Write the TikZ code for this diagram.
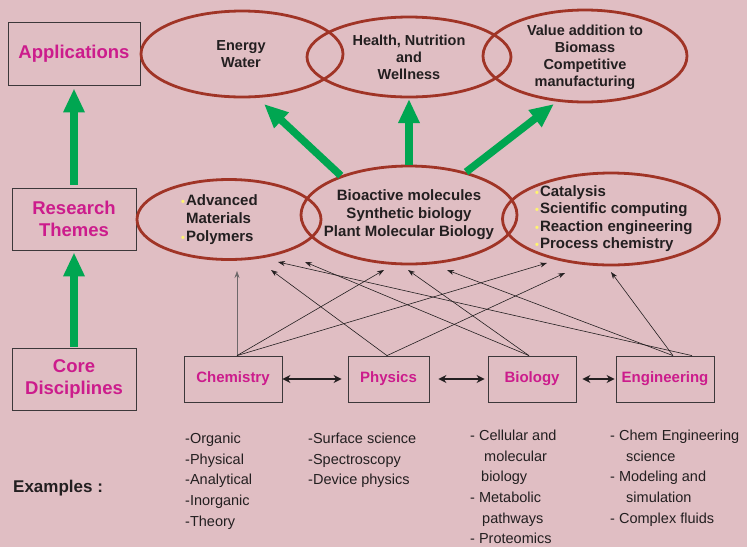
\documentclass[tikz,border=0pt]{standalone}
\usepackage{fontspec}
\setmainfont{Liberation Sans}
\usetikzlibrary{shapes.geometric,arrows.meta,positioning}

\definecolor{bgpink}{RGB}{224,190,195}
\definecolor{rimred}{RGB}{160,52,38}
\definecolor{pinktext}{RGB}{204,28,140}
\definecolor{leafgreen}{RGB}{0,166,81}
\definecolor{inkdark}{RGB}{35,31,32}
\definecolor{boxgray}{RGB}{60,56,58}
\definecolor{dotyellow}{RGB}{255,245,110}
\definecolor{linkgray}{RGB}{110,104,106}

\newcommand{\ydot}{\textcolor{dotyellow}{\fontsize{11}{11}\selectfont\textbullet}\hspace{1pt}}

\begin{document}
\begin{tikzpicture}[x=1pt, y=-1pt,
    rim/.style={ellipse, draw=rimred, line width=2.8pt, inner sep=0pt},
    tier/.style={draw=boxgray, line width=0.8pt, text=pinktext, align=center,
        font=\bfseries\fontsize{18.5}{22}\selectfont, minimum width=124pt, minimum height=62pt, inner sep=0pt},
    subject/.style={draw=boxgray, line width=0.8pt, text=pinktext,
        font=\bfseries\fontsize{15}{18}\selectfont, minimum height=46pt, inner sep=0pt},
    theme/.style={text=inkdark, font=\bfseries\fontsize{15}{18}\selectfont, inner sep=0pt},
    goal/.style={text=inkdark, align=center, font=\bfseries\fontsize{14.5}{17}\selectfont, inner sep=0pt},
    example/.style={anchor=north west, align=left, text=inkdark, font=\fontsize{14.5}{20.6}\selectfont, inner sep=0pt},
    greenup/.style={draw=leafgreen, line width=7.5pt, -{Triangle[length=24pt,width=20pt]}},
    feed/.style={draw=inkdark, line width=0.6pt, -{Stealth[length=7pt,width=5pt]}},
    pairlink/.style={draw=inkdark, line width=1.5pt, {Stealth[length=8pt,width=8pt]}-{Stealth[length=8pt,width=8pt]}}]

    \useasboundingbox (0,0) rectangle (747,547);
    \fill[bgpink] (0,0) rectangle (747,547);

    % left column
    \node[tier, minimum width=132pt, minimum height=63pt] (apps) at (74,53.5) {Applications};
    \node[tier] (themes) at (74,219) {Research\\Themes};
    \node[tier] (core) at (74,379) {Core\\Disciplines};
    \draw[greenup, shorten <=3pt, shorten >=3pt] (themes.north) -- (apps.south);
    \draw[greenup, shorten <=1pt, shorten >=2pt] (core.north) -- (themes.south);

    % application ellipses
    \node[rim, minimum width=202pt, minimum height=86pt] (energy) at (242,54) {};
    \node[rim, minimum width=204pt, minimum height=80pt] (health) at (409,57) {};
    \node[rim, minimum width=204pt, minimum height=92pt] (value) at (585,56) {};
    \node[goal] (energytxt) at (241,54) {Energy\\Water};
    \node[goal] (healthtxt) at (409,57) {Health, Nutrition\\and\\Wellness};
    \node[goal] (valuetxt) at (585,57) {Value addition to\\Biomass\\Competitive\\manufacturing};

    % research themes
    \node[rim, minimum width=184pt, minimum height=80pt] (materials) at (229,219.5) {};
    \node[rim, minimum width=216pt, minimum height=98pt] (bioactive) at (409,215) {};
    \node[rim, minimum width=217pt, minimum height=92pt] (catalysis) at (611,219) {};
    \node[theme, align=center] (biotxt) at (409,215) {Bioactive molecules\\Synthetic biology\\Plant Molecular Biology};
    \node[theme, align=left, anchor=west] (mattxt) at (181,220) {\ydot Advanced\\\phantom{\ydot}Materials\\\ydot Polymers};
    \node[theme, align=left, anchor=west, font=\bfseries\fontsize{15}{17.3}\selectfont] (cattxt) at (535,218.5)
        {\ydot Catalysis\\\ydot Scientific computing\\\ydot Reaction engineering\\\ydot Process chemistry};

    \coordinate (energytip) at (264,104);
    \coordinate (healthtip) at (409,99);
    \coordinate (valuetip) at (554,104);
    \draw[greenup] (bioactive.150) -- (energytip);
    \draw[greenup] (bioactive.north) -- (healthtip);
    \draw[greenup] (bioactive.37) -- (valuetip);

    % disciplines
    \node[subject, minimum width=98pt] (chem) at (233,379) {Chemistry};
    \node[subject, minimum width=81pt] (phys) at (388.5,379) {Physics};
    \node[subject, minimum width=88pt] (bio) at (532,379) {Biology};
    \node[subject, minimum width=98pt] (eng) at (665,379) {Engineering};
    \draw[pairlink, shorten >=6pt] (chem.east) -- (phys.west);
    \draw[pairlink, shorten <=9pt, shorten >=3pt] (phys.east) -- (bio.west);
    \draw[pairlink, shorten <=6pt, shorten >=1pt] (bio.east) -- (eng.west);

    \coordinate (matA) at (237,271);
    \coordinate (matB) at (271,270);
    \coordinate (matC) at (278,262);
    \coordinate (matD) at (305,262);
    \coordinate (bioA) at (384,270);
    \coordinate (bioB) at (408,270);
    \coordinate (bioC) at (447,270);
    \coordinate (catA) at (547,263);
    \coordinate (catB) at (565,273);
    \coordinate (catC) at (611,272);

    \draw[feed, draw=linkgray] ([xshift=4pt]chem.north) -- (matA);
    \draw[feed] ([xshift=4pt]chem.north) -- (bioA);
    \draw[feed] ([xshift=4pt]chem.north) -- (catA);
    \draw[feed] ([xshift=-1.5pt]phys.north) -- (matB);
    \draw[feed] ([xshift=-1.5pt]phys.north) -- (catB);
    \draw[feed] ([xshift=-3pt]bio.north) -- (matD);
    \draw[feed] ([xshift=-3pt]bio.north) -- (bioB);
    \draw[feed] ([xshift=8pt]eng.north) -- (bioC);
    \draw[feed] ([xshift=8pt]eng.north) -- (catC);
    \draw[feed] ([xshift=27pt]eng.north) -- (matC);

    % examples
    \node[anchor=west, text=inkdark, font=\bfseries\fontsize{17}{20}\selectfont, inner sep=0pt] (extitle) at (13,488) {Examples :};
    \node[example] (chemex) at (185,433) {-Organic\\-Physical\\-Analytical\\-Inorganic\\-Theory};
    \node[example] (physex) at (308,433) {-Surface science\\-Spectroscopy\\-Device physics};
    \node[example] (bioex) at (470,430) {- Cellular and\\\hspace*{14pt}molecular\\\hspace*{11pt}biology\\- Metabolic\\\hspace*{12pt}pathways\\- Proteomics};
    \node[example] (engex) at (610,430) {- Chem Engineering\\\hspace*{16pt}science\\- Modeling and\\\hspace*{16pt}simulation\\- Complex fluids};
\end{tikzpicture}
\end{document}
